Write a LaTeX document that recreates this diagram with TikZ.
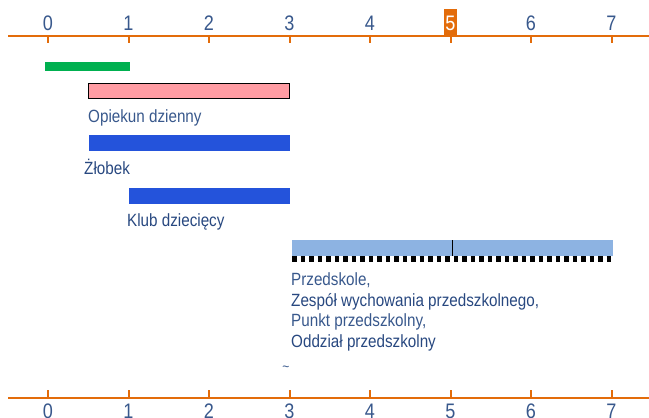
\documentclass[tikz,border=0pt]{standalone}
\usepackage{fontspec}
\setmainfont[FakeStretch=0.86]{Liberation Sans}
\definecolor{axisor}{RGB}{227,108,10}
\definecolor{txtblue}{RGB}{56,88,140}
\definecolor{txtdark}{RGB}{40,72,128}
\definecolor{pinkbar}{RGB}{255,156,163}
\definecolor{bluebar}{RGB}{36,83,219}
\definecolor{lightbar}{RGB}{141,179,226}
\definecolor{greenbar}{RGB}{0,176,80}
\tikzset{
  axisline/.style={draw=axisor, line width=2pt},
  tickmark/.style={draw=axisor, line width=2pt},
  axlabel/.style={anchor=base, inner sep=0pt, text=txtblue, font=\fontsize{21}{21}\selectfont},
  barlabel/.style={anchor=base west, inner sep=0pt, text=txtblue, font=\fontsize{17.7}{17.7}\selectfont},
  barlabeldark/.style={barlabel, text=txtdark},
}
\begin{document}
\begin{tikzpicture}[x=1pt,y=-1pt]
\useasboundingbox (0,0) rectangle (649,418);
\clip (0,0) rectangle (649,418);
% top axis
\coordinate (ta1) at (8,36);
\coordinate (ta2) at (649,36);
\draw[axisline] (ta1) -- (ta2);
% bottom axis
\coordinate (ba1) at (8,397.5);
\coordinate (ba2) at (649,397.5);
\draw[axisline] (ba1) -- (ba2);
\foreach \i/\xx in {0/48,1/128.5,2/209,3/289.5,4/370,5/450.5,6/531,7/611.5}{
  \coordinate (tt\i) at (\xx,36);
  \coordinate (tb\i) at (\xx,43);
  \draw[tickmark] (tt\i) -- (tb\i);
  \coordinate (bt\i) at (\xx,397.5);
  \coordinate (bb\i) at (\xx,390);
  \draw[tickmark] (bt\i) -- (bb\i);
  \node[axlabel] (bl\i) at (\xx,418.5) {\i};
}
\foreach \i/\xx in {0/48,1/128.5,2/209,3/289.5,4/370,6/531,7/611.5}{
  \node[axlabel] (tl\i) at (\xx,30) {\i};
}
\fill[axisor] (444,9) rectangle (457,35);
\node[axlabel, text=white] (tl5) at (450.5,30) {5};
% bars
\fill[greenbar] (45,62) rectangle (130,71);
\draw[black, line width=1pt, fill=pinkbar] (88.5,83.5) rectangle (289.5,98.5);
\node[barlabel] (opiekun) at (88,122) {Opiekun dzienny};
\fill[bluebar] (89,135) rectangle (290,151);
\node[barlabeldark] (zlobek) at (84,174) {Żłobek};
\fill[bluebar] (129,188) rectangle (290,204);
\node[barlabeldark] (klub) at (127,226.5) {Klub dziecięcy};
\fill[lightbar] (292,240) rectangle (613,256);
\draw[black, line width=1pt] (452,240) -- (452,256);
\draw[black, line width=6pt, dash pattern=on 4.5pt off 4pt] (292,259) -- (613,259);
\node[barlabel] (p1) at (291,285.5) {Przedskole,};
\node[barlabeldark] (p2) at (291,306) {Zespół wychowania przedszkolnego,};
\node[barlabel] (p3) at (291,326.5) {Punkt przedszkolny,};
\node[barlabeldark] (p4) at (291,347) {Oddział przedszkolny};
\node[inner sep=0pt, text=txtblue, font=\fontsize{14}{14}\selectfont] (tilde) at (286,369) {\~{}};
\end{tikzpicture}
\end{document}
